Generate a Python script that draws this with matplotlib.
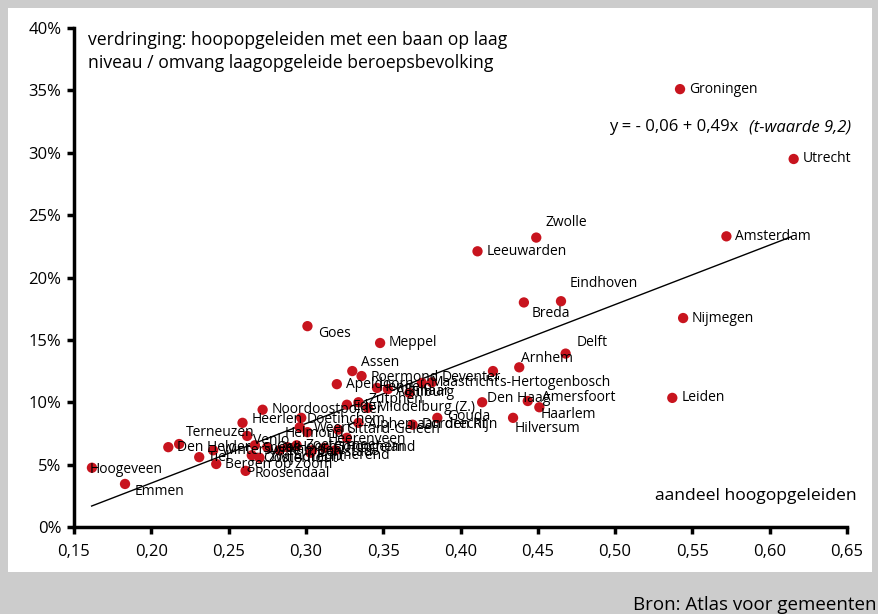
"""Verdringing vs aandeel hoogopgeleiden per gemeente."""

import matplotlib

matplotlib.use("Agg")
import matplotlib.pyplot as plt
from matplotlib.patches import Rectangle
from matplotlib.ticker import FuncFormatter, MultipleLocator

plt.rcParams["font.family"] = ["Open Sans", "DejaVu Sans"]

cities = [
    "Groningen", "Utrecht", "Zwolle", "Leeuwarden", "Amsterdam", "Eindhoven",
    "Breda", "Nijmegen", "Goes", "Meppel", "Delft", "Arnhem", "Leiden",
    "Assen", "Roermond", "Deventer", "'s-Hertogenbosch", "Maastricht",
    "Hengelo", "Apeldoorn", "Alkmaar", "Tilburg", "Den Haag", "Amersfoort",
    "Haarlem", "Hilversum", "Gouda", "Dordrecht", "Alphen aan den Rijn",
    "Middelburg (Z.)", "Zutphen", "Ede", "Noordoostpolder", "Heerlen",
    "Doetinchem", "Helmond", "Weert", "Sittard-Geleen", "Heerenveen",
    "Terneuzen", "Den Helder", "Tiel", "Winterswijk", "Bergen op Zoom",
    "Roosendaal", "Hoogeveen", "Emmen", "Venlo", "Sneek", "Oss", "Kampen",
    "Hoorn", "Zoetermeer", "Lelystad", "Gorinchem", "Hoogeland", "Purmerend",
    "Oosterhout", "Zwijndrecht",
]
# aandeel hoogopgeleiden
share_high = [
    0.542, 0.6155, 0.449, 0.411, 0.572, 0.465,
    0.441, 0.544, 0.301, 0.348, 0.468, 0.438, 0.537,
    0.330, 0.336, 0.3815, 0.421, 0.375,
    0.346, 0.320, 0.367, 0.353, 0.414, 0.4435,
    0.451, 0.434, 0.385, 0.369, 0.334,
    0.340, 0.334, 0.3265, 0.272, 0.259,
    0.297, 0.296, 0.301, 0.321, 0.3265,
    0.218, 0.211, 0.231, 0.240, 0.242,
    0.261, 0.1616, 0.183, 0.262, 0.267, 0.275, 0.283,
    0.288, 0.294, 0.304, 0.312, 0.319, 0.303,
    0.265, 0.270,
]
# verdringing (%)
displacement = [
    35.1, 29.5, 23.2, 22.1, 23.3, 18.1,
    18.0, 16.75, 16.1, 14.75, 13.9, 12.8, 10.35,
    12.5, 12.1, 11.6, 12.5, 11.55,
    11.15, 11.45, 10.75, 11.05, 10.0, 10.1,
    9.6, 8.75, 8.75, 8.2, 8.35,
    9.55, 10.0, 9.8, 9.4, 8.35,
    8.75, 8.0, 7.6, 7.8, 7.15,
    6.65, 6.4, 5.6, 6.15, 5.05,
    4.5, 4.75, 3.45, 7.3, 6.55, 6.4, 6.15,
    6.4, 6.55, 6.15, 6.35, 6.15, 5.95,
    5.75, 5.55,
]

# regression line end points
fit_x = [0.1614, 0.614]
fit_y = [1.68, 23.27]

x_ticks = [0.15, 0.20, 0.25, 0.30, 0.35, 0.40, 0.45, 0.50, 0.55, 0.60, 0.65]

# label offsets in pixels (dx, dy), default right of the dot
label_offsets = {
    "Zwolle": (9, 15), "Eindhoven": (9, 18), "Breda": (8, -11),
    "Goes": (11, -7), "Delft": (11, 11), "Arnhem": (2, 9), "Assen": (9, 9),
    "Roermond": (9, -1), "Deventer": (10, 5), "'s-Hertogenbosch": (4, -11),
    "Hengelo": (2, 0), "Alkmaar": (-13, 1), "Tilburg": (22, -3),
    "Den Haag": (5, 4), "Amersfoort": (14, 4), "Haarlem": (1, -7),
    "Hilversum": (2, -11), "Gouda": (10, 1), "Alphen aan den Rijn": (10, -2),
    "Zutphen": (10, 3), "Ede": (6, -2), "Heerlen": (9, 3),
    "Doetinchem": (5, -2), "Helmond": (-15, -6), "Weert": (6, 4),
    "Heerenveen": (-19, -2), "Terneuzen": (7, 12), "Roosendaal": (9, -3),
    "Hoogeveen": (-2, -2), "Emmen": (10, -8), "Venlo": (6, -5),
    "Sneek": (7, -3), "Lelystad": (8, -2), "Hoogeland": (10, 3),
    "Purmerend": (6, -3), "Oosterhout": (11, -3),
}

W, H = 879, 614
fig = plt.figure(figsize=(W / 100, H / 100), dpi=100, facecolor="#cccccc")
fig.patches.append(
    Rectangle((8 / W, 1 - 572 / H), 864 / W, 564 / H, transform=fig.transFigure,
              facecolor="white", edgecolor="none", zorder=-10)
)
ax = fig.add_axes([74 / W, 1 - 527 / H, 773 / W, 499 / H])
ax.set_facecolor("none")

ax.plot(fit_x, fit_y, color="black", lw=1, zorder=2)
ax.scatter(share_high, displacement, s=55, color="#c8141e", edgecolors="none", zorder=3)

for name, xv, yv in zip(cities, share_high, displacement):
    dx, dy = label_offsets.get(name, (9, 0))
    ax.annotate(name, (xv, yv), xytext=(dx, dy), textcoords="offset pixels",
                ha="left", va="center", fontsize=10, zorder=4)

ax.set_xlim(0.15, 0.65)
ax.set_ylim(0, 40)
ax.set_xticks(x_ticks)
ax.xaxis.set_major_formatter(FuncFormatter(lambda v, _: f"{v:.2f}".replace(".", ",")))
ax.yaxis.set_major_locator(MultipleLocator(5))
ax.yaxis.set_major_formatter(FuncFormatter(lambda v, _: f"{v:.0f}%"))
for side in ["top", "right"]:
    ax.spines[side].set_visible(False)
for side in ["left", "bottom"]:
    ax.spines[side].set_linewidth(2.5)
ax.tick_params(axis="both", length=5, width=2.5, labelsize=12)
ax.tick_params(axis="x", pad=7)
ax.tick_params(axis="y", pad=4)

fig.text(88 / W, 1 - 40 / H, "verdringing: hoopopgeleiden met een baan op laag",
         fontsize=12.7, va="center")
fig.text(88 / W, 1 - 63 / H, "niveau / omvang laagopgeleide beroepsbevolking",
         fontsize=12.7, va="center")
fig.text(609 / W, 1 - 127 / H, "y = - 0,06 + 0,49x", fontsize=12, va="center")
fig.text(851 / W, 1 - 127 / H, "(t-waarde 9,2)", fontsize=12, va="center",
         ha="right", style="italic")
fig.text(857 / W, 1 - 496 / H, "aandeel hoogopgeleiden", fontsize=12.6,
         va="center", ha="right")
fig.text(877 / W, 1 - 605 / H, "Bron: Atlas voor gemeenten", fontsize=13.5,
         va="center", ha="right")

fig.savefig("out.png", dpi=100, facecolor=fig.get_facecolor())
